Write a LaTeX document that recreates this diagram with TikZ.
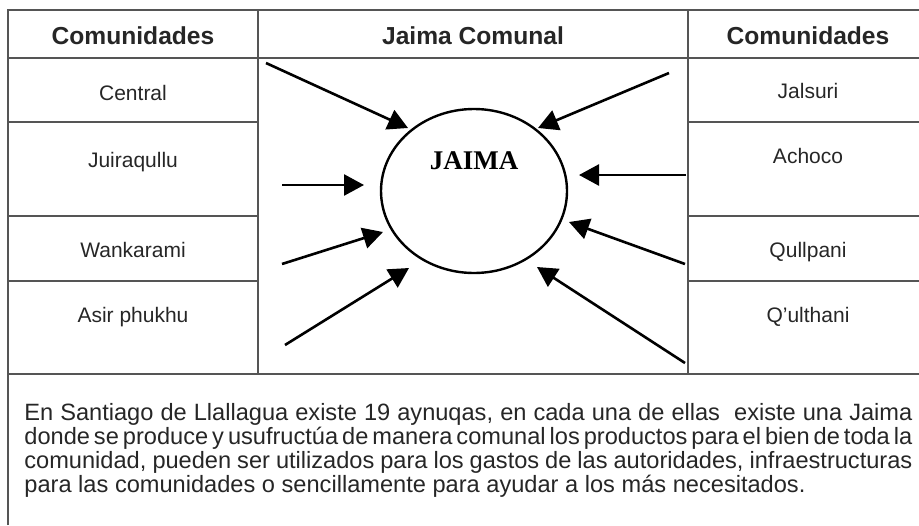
\documentclass[tikz,border=0pt]{standalone}
\usepackage{fontspec}
\setmainfont{Liberation Sans}
\newfontfamily\jaimafont{Liberation Serif}
\usepackage{xcolor}
\usetikzlibrary{arrows.meta, shapes.geometric}
\definecolor{lineagris}{HTML}{555555}
\definecolor{textogris}{HTML}{262626}

\begin{document}
\begin{tikzpicture}[x=0.5pt, y=-0.5pt,
    % Styles
    linea/.style={draw=lineagris, line width=0.9pt},
    cabecera/.style={
        anchor=base,
        inner sep=0pt,
        text=textogris,
        font=\fontsize{12.3}{14}\selectfont\bfseries
    },
    celda/.style={
        anchor=base,
        inner sep=0pt,
        text=textogris,
        font=\fontsize{10.5}{12}\selectfont
    },
    jaimabox/.style={
        ellipse,
        draw=black,
        line width=1.2pt,
        minimum width=93pt,
        minimum height=82pt,
        inner sep=0pt
    },
    flecha/.style={
        -{Triangle[length=10pt, width=10.5pt]},
        line width=1.3pt,
        color=black
    },
    parrafo/.style={
        anchor=base west,
        inner sep=0pt,
        text width=444pt,
        align=justify,
        text=textogris,
        font=\fontsize{11.8}{10.65}\selectfont
    }
]
\useasboundingbox (0,0) rectangle (919,525);

% Table frame
\draw[linea] (8,525) -- (8,10) -- (919,10);
\draw[linea] (8,58) -- (919,58);
\draw[linea] (8,374) -- (919,374);
\draw[linea] (258,10) -- (258,374);
\draw[linea] (688,10) -- (688,374);
\draw[linea] (8,122) -- (258,122);
\draw[linea] (8,216) -- (258,216);
\draw[linea] (8,281) -- (258,281);
\draw[linea] (688,122) -- (919,122);
\draw[linea] (688,216) -- (919,216);
\draw[linea] (688,281) -- (919,281);

% Headers
\node[cabecera] (hizq) at (133,44) {Comunidades};
\node[cabecera] (hcen) at (473,44) {Jaima Comunal};
\node[cabecera] (hder) at (808,44) {Comunidades};

% Communities, left
\node[celda] (central) at (133,100) {Central};
\node[celda] (juiraqullu) at (133,167) {Juiraqullu};
\node[celda] (wankarami) at (133,257) {Wankarami};
\node[celda] (asir) at (133,322) {Asir phukhu};

% Communities, right
\node[celda] (jalsuri) at (808,98) {Jalsuri};
\node[celda] (achoco) at (808,163) {Achoco};
\node[celda] (qullpani) at (808,257) {Qullpani};
\node[celda] (qulthani) at (808,322) {Q’ulthani};

% Jaima
\node[jaimabox] (jaima) at (474,191) {};
\node[anchor=base, inner sep=0pt, font=\jaimafont\fontsize{13.5}{16}\selectfont\bfseries]
    (jaimatxt) at (474,169) {JAIMA};

% Arrow ends
\coordinate (central-ini) at (266,63);
\coordinate (central-fin) at (408,128);
\coordinate (juiraqullu-ini) at (282,185);
\coordinate (juiraqullu-fin) at (364,185);
\coordinate (wankarami-ini) at (282,264);
\coordinate (wankarami-fin) at (383,232);
\coordinate (asir-ini) at (285,345);
\coordinate (asir-fin) at (409,268);
\coordinate (jalsuri-ini) at (669,73);
\coordinate (jalsuri-fin) at (538,128);
\coordinate (achoco-ini) at (686,175);
\coordinate (achoco-fin) at (579,175);
\coordinate (qullpani-ini) at (685,264);
\coordinate (qullpani-fin) at (569,222);
\coordinate (qulthani-ini) at (685,363);
\coordinate (qulthani-fin) at (537,267);

% Arrows
\draw[flecha] (central-ini) -- (central-fin);
\draw[flecha] (juiraqullu-ini) -- (juiraqullu-fin);
\draw[flecha] (wankarami-ini) -- (wankarami-fin);
\draw[flecha] (asir-ini) -- (asir-fin);
\draw[flecha] (jalsuri-ini) -- (jalsuri-fin);
\draw[flecha] (achoco-ini) -- (achoco-fin);
\draw[flecha] (qullpani-ini) -- (qullpani-fin);
\draw[flecha] (qulthani-ini) -- (qulthani-fin);

% Description
\node[parrafo] (texto) at (24,420) {\spaceskip=.28em plus .4em minus .14em
    En Santiago de Llallagua existe 19 aynuqas, en cada una de ellas~ existe una Jaima\linebreak
    donde se produce y usufructúa de manera comunal los productos para el bien de toda la\linebreak
    comunidad, pueden ser utilizados para los gastos de las autoridades, infraestructuras\linebreak
    para las comunidades o sencillamente para ayudar a los más necesitados.};

\end{tikzpicture}
\end{document}
